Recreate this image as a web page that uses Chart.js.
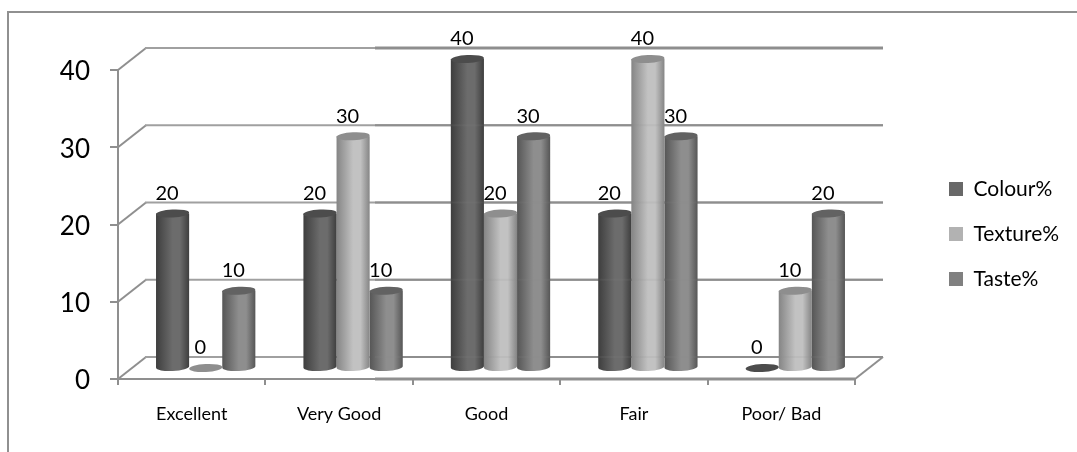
<!DOCTYPE html>
<html>
<head>
<meta charset="utf-8">
<style>
html,body{margin:0;padding:0;background:#fff;}
#wrap{position:relative;width:1077px;height:452px;}
</style>
<script src="https://cdn.jsdelivr.net/npm/chart.js@4/dist/chart.umd.min.js"></script>
</head>
<body>
<div id="wrap"><canvas id="c" width="1077" height="452"></canvas></div>
<script>
const categories = ["Excellent", "Very Good", "Good", "Fair", "Poor/ Bad"];
const colourValues = [20, 20, 40, 20, 0];
const textureValues = [0, 30, 20, 40, 10];
const tasteValues = [10, 10, 30, 30, 20];
const yTicks = [0, 10, 20, 30, 40];

// Shades per series: legend swatch, cylinder edge, cylinder centre, cap
const colourShade = { swatch: "#686868", edge: "#3e3e3e", mid: "#6c6c6c", cap: "#4c4c4c" };
const textureShade = { swatch: "#b2b2b2", edge: "#858585", mid: "#c2c2c2", cap: "#8e8e8e" };
const tasteShade = { swatch: "#808080", edge: "#565656", mid: "#8e8e8e", cap: "#626262" };

const LINE = "#8f8f8f";
const WALL_DX = 28, WALL_DY = -22;   // floor depth of the 3D box
const BAR_DX = 14, BAR_DY = -11;     // columns stand halfway into the box
const FONT = "Lato, 'Open Sans', sans-serif";

// Bar element drawn as a shaded cylinder
class CylinderElement extends Chart.BarElement {
  draw(ctx) {
    const { x, y, base, width } = this.getProps(["x", "y", "base", "width"]);
    const shade = this.options.shade;
    const l = x - width / 2, r = x + width / 2, ry = 4, tilt = -0.05;
    const g = ctx.createLinearGradient(l, 0, r, 0);
    g.addColorStop(0, shade.edge);
    g.addColorStop(0.5, shade.mid);
    g.addColorStop(0.72, shade.mid);
    g.addColorStop(1, shade.edge);
    ctx.save();
    ctx.translate(BAR_DX, BAR_DY);
    if (base - y > 0.5) {
      ctx.fillStyle = g;
      ctx.beginPath();
      ctx.moveTo(l, y);
      ctx.lineTo(l, base);
      ctx.ellipse(x, base, width / 2, ry, tilt, Math.PI, 0, true);
      ctx.lineTo(r, y);
      ctx.closePath();
      ctx.fill();
    }
    ctx.fillStyle = shade.cap;
    ctx.beginPath();
    ctx.ellipse(x, y, width / 2, ry, tilt, 0, Math.PI * 2);
    ctx.fill();
    ctx.restore();
  }
}
CylinderElement.id = "cylinder";
CylinderElement.defaults = Object.assign({}, Chart.BarElement.defaults, { shade: null });
CylinderElement.defaultRoutes = Chart.BarElement.defaultRoutes;

class CylinderController extends Chart.BarController {}
CylinderController.id = "cylinderBar";
CylinderController.defaults = Object.assign({}, Chart.BarController.defaults, { dataElementType: "cylinder" });
CylinderController.overrides = Chart.BarController.overrides;
Chart.register(CylinderElement, CylinderController);

function strokeLine(ctx, x1, y1, x2, y2, w, color) {
  ctx.lineWidth = w;
  ctx.strokeStyle = color;
  ctx.beginPath();
  ctx.moveTo(x1, y1);
  ctx.lineTo(x2, y2);
  ctx.stroke();
}

// Outer frame, back wall gridlines, floor and the value labels
const boxPlugin = {
  id: "box",
  beforeDraw(chart) {
    const ctx = chart.ctx;
    const leg = chart.legend;
    const pad = leg.options.labels.padding;
    leg.left = 949 - pad;
    leg.right = 1077;
    leg.top = 178.5 - pad;
    strokeLine(ctx, 8, 453, 8, 12, 2, "#909090");
    strokeLine(ctx, 7, 12, 1078, 12, 2, "#909090");
  },
  beforeDatasetsDraw(chart) {
    const ctx = chart.ctx;
    const { left, right } = chart.chartArea;
    const y = chart.scales.y;
    yTicks.forEach(v => {
      const py = y.getPixelForValue(v);
      strokeLine(ctx, left, py, left + WALL_DX, py + WALL_DY, 2, LINE);
      strokeLine(ctx, left + WALL_DX - 1, py + WALL_DY, right + WALL_DX, py + WALL_DY, 2, "#a0a0a0");
      strokeLine(ctx, 375, py + WALL_DY, right + WALL_DX, py + WALL_DY, v === 40 ? 3 : 2, LINE);
    });
    const p0 = y.getPixelForValue(0);
    strokeLine(ctx, right, p0, right + WALL_DX, p0 + WALL_DY, 2, LINE);
    ctx.fillStyle = "#000";
    ctx.font = "20px " + FONT;
    ctx.textAlign = "center";
    ctx.textBaseline = "middle";
    chart.data.datasets.forEach((ds, i) => {
      chart.getDatasetMeta(i).data.forEach((bar, j) => {
        ctx.fillText(String(ds.data[j]), bar.x + BAR_DX - 5.5, bar.y + BAR_DY - 20);
      });
    });
  },
  afterDatasetsDraw(chart) {
    const ctx = chart.ctx;
    const { right, bottom } = chart.chartArea;
    const y = chart.scales.y;
    // Wall lines show very faintly through the columns on the right-hand part
    ctx.save();
    ctx.globalAlpha = 0.12;
    yTicks.forEach(v => {
      const py = y.getPixelForValue(v) + WALL_DY;
      strokeLine(ctx, 375, py, right + WALL_DX, py, 2, LINE);
    });
    ctx.restore();
    strokeLine(ctx, 375, bottom, right, bottom, 3, LINE);
  }
};

const chart = new Chart(document.getElementById("c"), {
  type: "cylinderBar",
  data: {
    labels: categories,
    datasets: [
      { label: "Colour%", data: colourValues, backgroundColor: colourShade.swatch, shade: colourShade, clip: false },
      { label: "Texture%", data: textureValues, backgroundColor: textureShade.swatch, shade: textureShade, clip: false },
      { label: "Taste%", data: tasteValues, backgroundColor: tasteShade.swatch, shade: tasteShade, clip: false }
    ]
  },
  options: {
    responsive: false,
    animation: false,
    layout: { padding: { left: 0, right: 0, top: 70, bottom: 0 } },
    categoryPercentage: 0.674,
    barPercentage: 1,
    plugins: {
      tooltip: { enabled: false },
      legend: {
        position: "right",
        align: "start",
        labels: {
          boxWidth: 14,
          boxHeight: 14,
          padding: 24,
          color: "#000",
          font: { family: FONT, size: 21 }
        }
      }
    },
    scales: {
      x: {
        afterFit(s) { s.height = 73; },
        border: { color: LINE, width: 2 },
        grid: { drawOnChartArea: false, drawTicks: true, tickLength: 6, color: LINE, lineWidth: 2 },
        ticks: { color: "#000", padding: 18, maxRotation: 0, font: { family: FONT, size: 18 } }
      },
      y: {
        min: 0,
        max: 40,
        afterFit(s) { s.width = 118; },
        border: { color: LINE, width: 2 },
        grid: { drawOnChartArea: false, drawTicks: true, tickLength: 8, color: LINE, lineWidth: 2 },
        ticks: {
          color: "#000",
          padding: 20,
          stepSize: 10,
          labelOffset: 2,
          font: { family: FONT, size: 26 }
        }
      }
    }
  },
  plugins: [boxPlugin]
});
// The plot ends at a fixed x position regardless of the legend's own width
chart.options.layout.padding.right = Math.max(0, 222 - chart.legend.width);
chart.update();
</script>
</body>
</html>
